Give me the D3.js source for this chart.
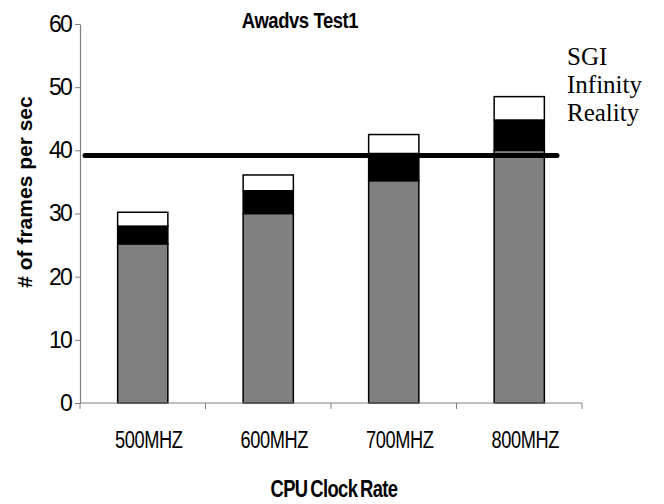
<!DOCTYPE html>
<html>
<head>
<meta charset="utf-8">
<script src="https://cdn.jsdelivr.net/npm/d3@7"></script>
<style>
  body { margin: 0; background: #fff; }
  svg { display: block; font-family: "Liberation Sans", Arial, sans-serif; }
</style>
</head>
<body>
<svg id="chart" width="664" height="504"></svg>
<script>
// chart data
const categories = ["500MHZ", "600MHZ", "700MHZ", "800MHZ"];
const baseFps = [25.2, 30.0, 35.2, 40.0];   // grey part
const midFps = [2.8, 3.6, 4.3, 4.8];        // black part
const topFps = [2.2, 2.5, 3.0, 3.7];        // white part
const yTicks = [0, 10, 20, 30, 40, 50, 60];
const sgiLevel = 39.2;
const sgiLabel = ["SGI", "Infinity", "Reality"];

const svg = d3.select("#chart");

const plotLeft = 80, plotRight = 582, plotTop = 24, plotBottom = 403;

const x = d3.scaleBand()
    .domain(categories)
    .range([plotLeft, plotRight])
    .paddingInner(0.6)
    .paddingOuter(0.3);

const y = d3.scaleLinear()
    .domain([0, 60])
    .range([plotBottom, plotTop]);

// stack the three parts
const rows = categories.map((c, i) => ({ cat: c, base: baseFps[i], mid: midFps[i], top: topFps[i] }));
const stack = d3.stack().keys(["base", "mid", "top"])(rows);
const fills = { base: "#808080", mid: "#000000", top: "#ffffff" };

const bars = svg.append("g");
stack.forEach(layer => {
    bars.append("g")
        .attr("fill", fills[layer.key])
        .attr("stroke", "#000")
        .attr("stroke-width", 1.5)
        .selectAll("rect")
        .data(layer)
        .join("rect")
        .attr("x", d => x(d.data.cat))
        .attr("width", x.bandwidth())
        .attr("y", d => y(d[1]))
        .attr("height", d => y(d[0]) - y(d[1]));
});

// y axis
const yAxis = svg.append("g")
    .attr("transform", `translate(${plotLeft},0)`)
    .call(d3.axisLeft(y).tickValues(yTicks).tickSize(5).tickPadding(4).tickSizeOuter(0));
yAxis.select(".domain").attr("stroke", "#808080").attr("stroke-width", 1.2);
yAxis.selectAll(".tick line").attr("stroke", "#808080");
yAxis.selectAll("text")
    .attr("font-size", 23)
    .attr("letter-spacing", -1.8)
    .attr("fill", "#000");

// x axis, ticks sit between the bars
const xAxis = svg.append("g")
    .attr("transform", `translate(0,${plotBottom})`);
xAxis.append("line")
    .attr("x1", plotLeft).attr("x2", plotRight)
    .attr("stroke", "#808080").attr("stroke-width", 1.2);
const bounds = categories.map(c => x(c) - x.step() * x.paddingOuter()).concat([plotRight]);
xAxis.selectAll(".xt")
    .data(bounds)
    .join("line")
    .attr("class", "xt")
    .attr("x1", d => d).attr("x2", d => d)
    .attr("y1", 0).attr("y2", 6)
    .attr("stroke", "#808080");
// labels are drawn squeezed sideways, like the original
xAxis.selectAll(".xl")
    .data(categories)
    .join("text")
    .attr("class", "xl")
    .attr("transform", d => `translate(${x(d) + x.bandwidth() / 2 + 6},45) scale(0.76,1)`)
    .attr("text-anchor", "middle")
    .attr("font-size", 24)
    .attr("letter-spacing", -0.5)
    .text(d => d);

// SGI reference line
svg.append("line")
    .attr("x1", plotLeft + 5)
    .attr("x2", plotRight - 25)
    .attr("y1", y(sgiLevel))
    .attr("y2", y(sgiLevel))
    .attr("stroke", "#000")
    .attr("stroke-width", 5)
    .attr("stroke-linecap", "round");

svg.append("text")
    .attr("x", 567)
    .attr("y", 65)
    .attr("font-family", "'Liberation Serif', 'Times New Roman', serif")
    .attr("font-size", 25)
    .selectAll("tspan")
    .data(sgiLabel)
    .join("tspan")
    .attr("x", 567)
    .attr("dy", (d, i) => i === 0 ? 0 : 28)
    .text(d => d);

// titles
svg.append("text")
    .attr("transform", "translate(300,28) scale(0.84,1)")
    .attr("text-anchor", "middle")
    .attr("font-size", 22)
    .attr("font-weight", "bold")
    .attr("letter-spacing", -0.5)
    .text("Awadvs Test1");

svg.append("text")
    .attr("transform", "translate(334,497) scale(0.8,1)")
    .attr("text-anchor", "middle")
    .attr("font-size", 23)
    .attr("font-weight", "bold")
    .attr("letter-spacing", -0.8)
    .attr("word-spacing", -2)
    .text("CPU Clock Rate");

svg.append("text")
    .attr("transform", "translate(32,192) rotate(-90)")
    .attr("text-anchor", "middle")
    .attr("font-size", 21)
    .attr("font-weight", "bold")
    .text("# of frames per sec");
</script>
</body>
</html>
